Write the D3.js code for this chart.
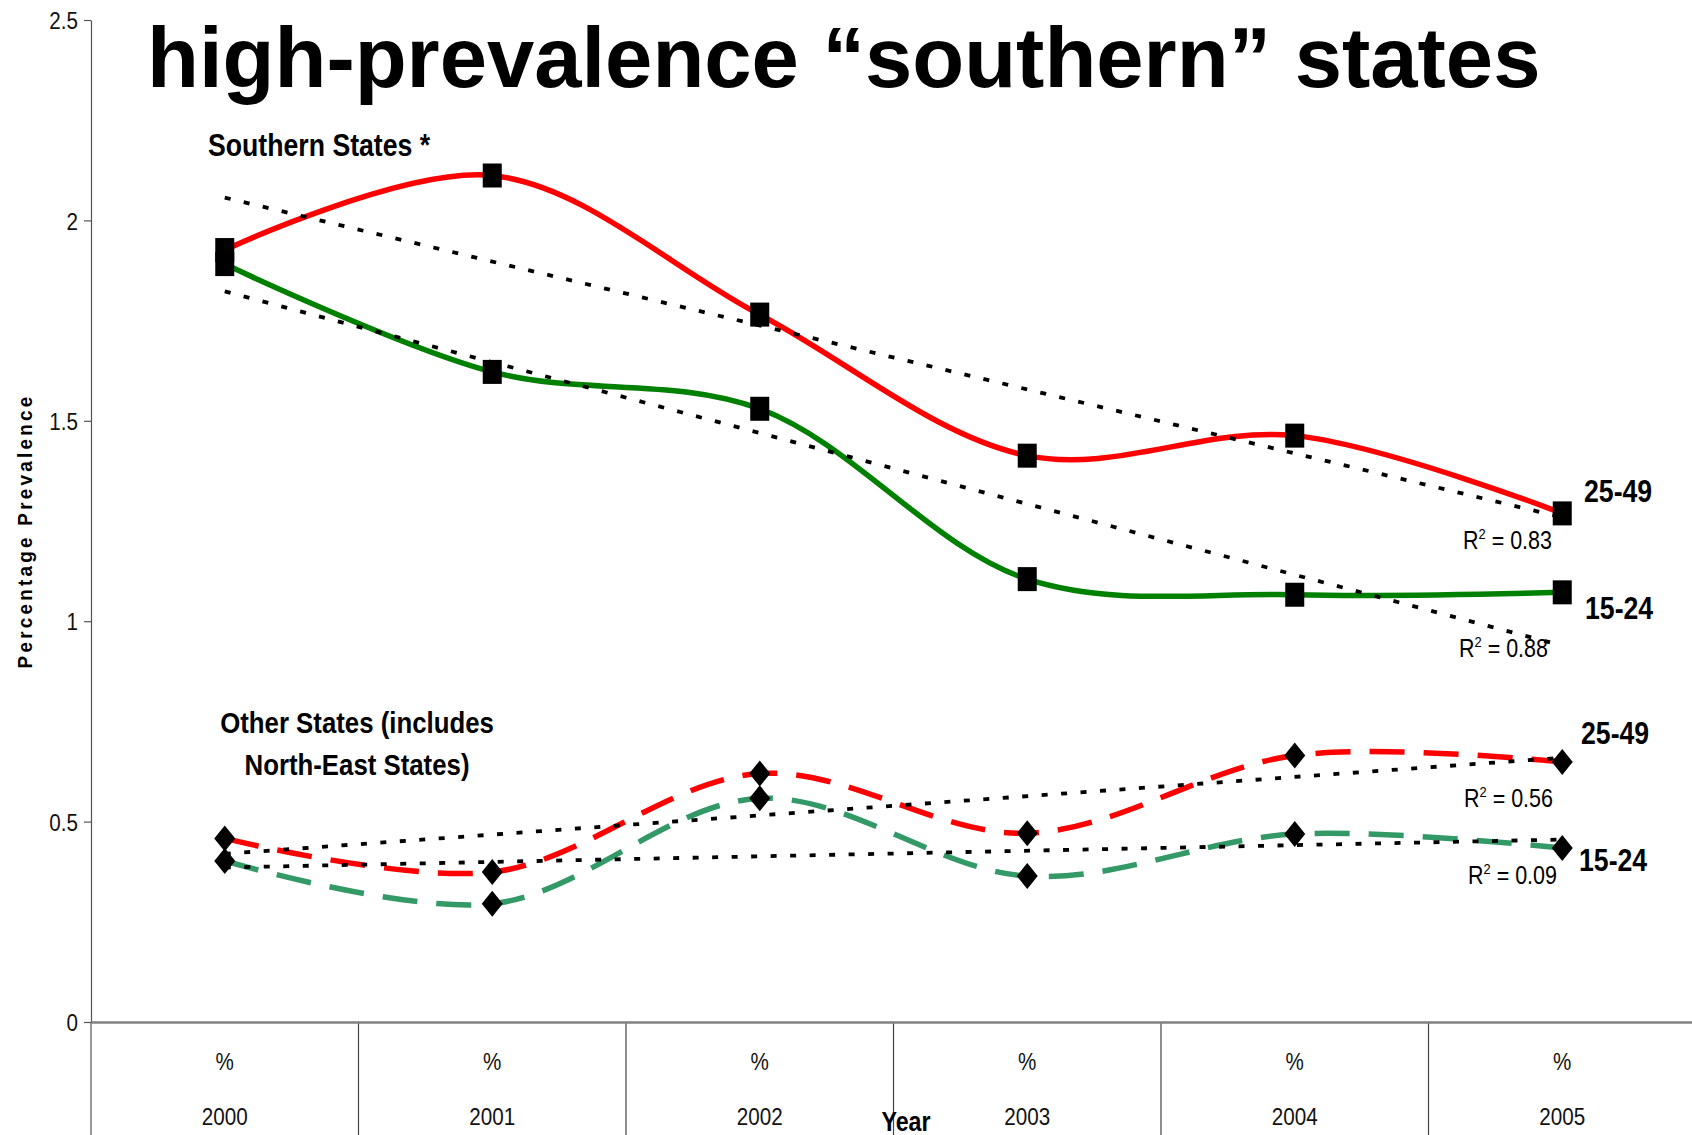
<!DOCTYPE html>
<html>
<head>
<meta charset="utf-8">
<script src="https://cdn.jsdelivr.net/npm/d3@7"></script>
<style>
  html, body { margin: 0; padding: 0; background: #fff; overflow: hidden; }
  text { font-family: "Liberation Sans", Arial, sans-serif; }
</style>
</head>
<body>
<div id="chart"></div>
<script>
// chart values
const years = ["2000", "2001", "2002", "2003", "2004", "2005"];
const south2549 = [1.926, 2.112, 1.765, 1.413, 1.463, 1.269];
const south1524 = [1.891, 1.622, 1.530, 1.105, 1.066, 1.072];
const other2549 = [0.458, 0.374, 0.620, 0.471, 0.665, 0.649];
const other1524 = [0.402, 0.295, 0.558, 0.364, 0.469, 0.434];
const yTicks = [0, 0.5, 1, 1.5, 2, 2.5];
const r2Labels = ["0.83", "0.88", "0.56", "0.09"];
const ageLabels = ["25-49", "15-24", "25-49", "15-24"];

const width = 1692;
const height = 1135;
// the slide text is squeezed sideways, like a narrow face
const squeeze = 0.86;

const svg = d3.select("#chart")
  .append("svg")
  .attr("width", width)
  .attr("height", height);

// scales
const xScale = d3.scaleBand()
  .domain(years)
  .range([91, 1696])
  .padding(0);

const yScale = d3.scaleLinear()
  .domain([0, 2.5])
  .range([1022, 20]);

const cx = d => xScale(d) + xScale.bandwidth() / 2;

// place a squeezed text at x,y
function narrowText(x, y, txt, size, bold, anchor) {
  return svg.append("text")
    .attr("transform", `translate(${x},${y}) scale(${squeeze},1)`)
    .attr("text-anchor", anchor || "start")
    .style("font-size", size + "px")
    .style("font-weight", bold ? "bold" : "normal")
    .text(txt);
}

// title
svg.append("text")
  .attr("x", 147)
  .attr("y", 87)
  .style("font-weight", "bold")
  .style("font-size", "85px")
  .text("high-prevalence \u201csouthern\u201d states");

// y axis
const yAxis = d3.axisLeft(yScale)
  .tickValues(yTicks)
  .tickSize(7)
  .tickSizeOuter(0)
  .tickFormat(d => String(d));

const gy = svg.append("g")
  .attr("class", "y-axis")
  .attr("transform", "translate(91,0)")
  .call(yAxis);
gy.select(".domain").attr("stroke", "#555").attr("stroke-width", 1.2);
gy.selectAll(".tick line").attr("stroke", "#555").attr("stroke-width", 1.2);
gy.selectAll(".tick text")
  .attr("x", -13 / squeeze)
  .attr("dy", "0.36em")
  .attr("transform", `scale(${squeeze},1)`)
  .style("font-size", "24px")
  .style("font-family", "'Liberation Sans', Arial, sans-serif")
  .attr("fill", "#111");

// axis line continues below zero
svg.append("line")
  .attr("x1", 91).attr("x2", 91)
  .attr("y1", yScale(0)).attr("y2", height)
  .attr("stroke", "#555").attr("stroke-width", 1.2);

// category separators below the x axis
const bounds = years.map(d => xScale(d)).concat([xScale.range()[1]]);
svg.selectAll(".sep")
  .data(bounds.slice(1))
  .enter()
  .append("line")
  .attr("class", "sep")
  .attr("x1", d => d).attr("x2", d => d)
  .attr("y1", yScale(0)).attr("y2", height)
  .attr("stroke", "#444").attr("stroke-width", 1.2);

// x axis
const xAxis = d3.axisBottom(xScale)
  .tickSize(0)
  .tickSizeOuter(0)
  .tickFormat(() => "%");

const gx = svg.append("g")
  .attr("class", "x-axis")
  .attr("transform", `translate(0,${yScale(0)})`)
  .call(xAxis);
gx.select(".domain").attr("stroke", "#808080").attr("stroke-width", 2.5);
gx.selectAll(".tick text")
  .attr("y", 48)
  .attr("dy", 0)
  .attr("transform", `scale(${squeeze},1)`)
  .style("font-size", "24px")
  .style("font-family", "'Liberation Sans', Arial, sans-serif")
  .attr("fill", "#111");
gx.selectAll(".tick")
  .append("text")
  .attr("y", 103)
  .attr("transform", `scale(${squeeze},1)`)
  .attr("fill", "#111")
  .style("font-size", "24px")
  .text(d => d);

// axis titles
narrowText(906, 1131, "Year", 27, true, "middle");

svg.append("text")
  .attr("transform", "translate(32,531) rotate(-90) scale(0.9,1)")
  .attr("text-anchor", "middle")
  .style("font-weight", "bold")
  .style("font-size", "21px")
  .style("letter-spacing", "3.6px")
  .text("Percentage Prevalence");

// series
const series = [
  { values: south2549, color: "#ff0000", dash: null, marker: "square" },
  { values: south1524, color: "#008000", dash: null, marker: "square" },
  { values: other2549, color: "#ff0000", dash: "35,19", marker: "diamond" },
  { values: other1524, color: "#339966", dash: "35,19", marker: "diamond" }
];

const line = d3.line()
  .x((d, i) => cx(years[i]))
  .y(d => yScale(d))
  .curve(d3.curveCatmullRom.alpha(0.5));

svg.selectAll(".series")
  .data(series)
  .enter()
  .append("path")
  .attr("class", "series")
  .attr("d", d => line(d.values))
  .attr("fill", "none")
  .attr("stroke", d => d.color)
  .attr("stroke-width", 5.5)
  .attr("stroke-dasharray", d => d.dash);

// linear trend lines (least squares on year index)
function trend(values) {
  const xs = values.map((v, i) => i + 1);
  const mx = d3.mean(xs), my = d3.mean(values);
  const slope = d3.sum(xs, (x, i) => (x - mx) * (values[i] - my)) / d3.sum(xs, x => (x - mx) * (x - mx));
  const icpt = my - slope * mx;
  return [icpt + slope * 1, icpt + slope * xs.length];
}

svg.selectAll(".trend")
  .data(series)
  .enter()
  .append("line")
  .attr("class", "trend")
  .attr("x1", cx(years[0]))
  .attr("x2", cx(years[years.length - 1]))
  .attr("y1", d => yScale(trend(d.values)[0]))
  .attr("y2", d => yScale(trend(d.values)[1]))
  .attr("stroke", "#000")
  .attr("stroke-width", 3.8)
  .attr("stroke-dasharray", "6,13.5");

// markers
series.forEach(s => {
  const pts = s.values.map((v, i) => ({ year: years[i], v: v }));
  if (s.marker === "square") {
    svg.selectAll(null)
      .data(pts)
      .enter()
      .append("rect")
      .attr("x", d => cx(d.year) - 9.5)
      .attr("y", d => yScale(d.v) - 12)
      .attr("width", 19)
      .attr("height", 24)
      .attr("fill", "#000");
  } else {
    svg.selectAll(null)
      .data(pts)
      .enter()
      .append("path")
      .attr("d", "M0,-13L10.5,0L0,13L-10.5,0Z")
      .attr("transform", d => `translate(${cx(d.year)},${yScale(d.v)})`)
      .attr("fill", "#000");
  }
});

// group captions
narrowText(208, 156, "Southern States *", 31, true);
narrowText(357, 733, "Other States (includes", 30, true, "middle");
narrowText(357, 775, "North-East States)", 30, true, "middle");

// age group labels and R squared labels
const agePos = [[1584, 502], [1585, 619], [1581, 744], [1579, 871]];
ageLabels.forEach((d, i) => narrowText(agePos[i][0], agePos[i][1], d, 31, true));

const r2Pos = [[1463, 549], [1459, 657], [1464, 807], [1468, 884]];
r2Labels.forEach((d, i) => {
  const t = narrowText(r2Pos[i][0], r2Pos[i][1], null, 25, false);
  t.append("tspan").text("R");
  t.append("tspan").attr("dy", -10).style("font-size", "15px").text("2");
  t.append("tspan").attr("dy", 10).text(" = " + d);
});
</script>
</body>
</html>
